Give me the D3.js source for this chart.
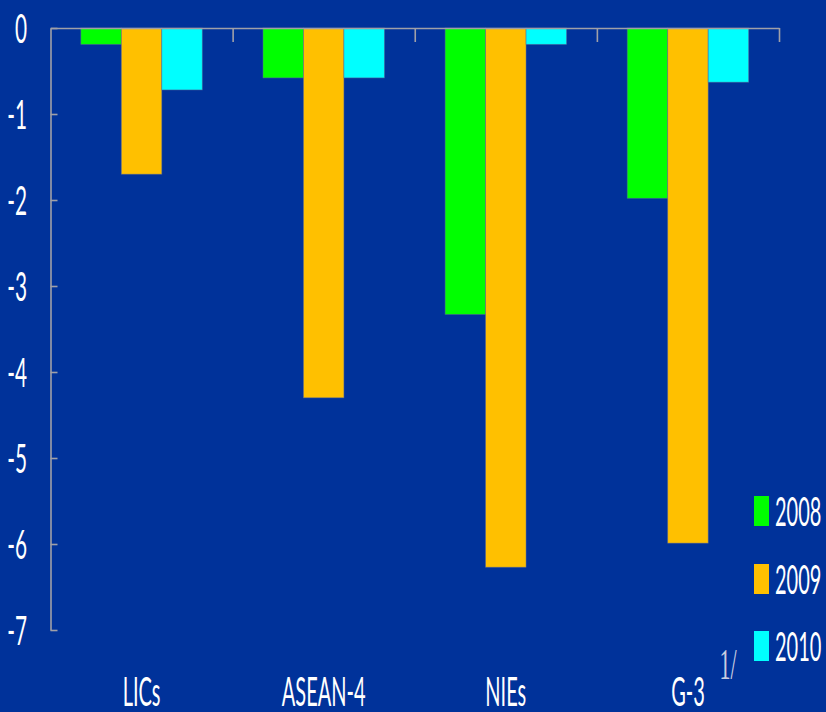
<!DOCTYPE html>
<html>
<head>
<meta charset="utf-8">
<script src="https://cdn.jsdelivr.net/npm/d3@7"></script>
<style>
  html, body { margin: 0; padding: 0; background: #00329a; }
  svg { display: block; }
</style>
</head>
<body>
<svg id="chart" width="826" height="712"></svg>
<script>
// Regional contributions (percent), by year
const categories = ["LICs", "ASEAN-4", "NIEs", "G-3"];
const years = ["2008", "2009", "2010"];
const values2008 = [-0.19, -0.58, -3.33, -1.98];
const values2009 = [-1.70, -4.30, -6.27, -5.99];
const values2010 = [-0.72, -0.58, -0.19, -0.63];
const yTicks = [0, -1, -2, -3, -4, -5, -6, -7];
const colors = ["#00ff00", "#ffc000", "#00ffff"];

const series = [values2008, values2009, values2010];
const rows = categories.map((c, i) => ({
  cat: c,
  vals: years.map((yr, j) => ({ year: yr, v: series[j][i], k: j }))
}));

const svg = d3.select("#chart");
const W = 826, H = 712;
svg.append("rect").attr("width", W).attr("height", H).attr("fill", "#00329a");

const plotLeft = 50.5, plotRight = 779, plotTop = 28, plotBottom = 630;

const y = d3.scaleLinear().domain([0, -7]).range([plotTop, plotBottom]);
const x0 = d3.scaleBand().domain(categories).range([plotLeft, plotRight]);
const groupPad = x0.bandwidth() * 0.1667;
const x1 = d3.scaleBand().domain(years).range([groupPad, x0.bandwidth() - groupPad]);

// condensed text: draw then squeeze horizontally
function squeezed(parent, x, yy, anchor, txt, size, opts = {}) {
  const g = parent.append("g")
    .attr("transform", `translate(${x},${yy}) scale(${opts.sx || 0.5},1)`);
  g.append("text")
    .attr("text-anchor", anchor)
    .attr("font-family", opts.family || "Lato, 'Open Sans', sans-serif")
    .attr("font-size", size)
    .attr("font-weight", opts.weight || 400)
    .attr("fill", opts.fill || "#ffffff")
    .text(txt);
  return g;
}

// bars
const groups = svg.append("g").selectAll("g").data(rows).join("g")
  .attr("transform", d => `translate(${x0(d.cat)},0)`);
groups.selectAll("rect").data(d => d.vals).join("rect")
  .attr("x", d => x1(d.year))
  .attr("width", x1.bandwidth())
  .attr("y", y(0))
  .attr("height", d => y(d.v) - y(0))
  .attr("fill", d => colors[d.k])
  .attr("stroke", "#5a6a9a")
  .attr("stroke-opacity", 0.6)
  .attr("stroke-width", 0.8);

// value axis: ticks point inward
const yAxis = d3.axisLeft(y).tickValues(yTicks).tickSizeInner(-7).tickSizeOuter(0).tickFormat("");
const yg = svg.append("g").attr("transform", `translate(${plotLeft},0)`).call(yAxis);
yg.selectAll("path, line").attr("stroke", "#a0a0a8").attr("stroke-width", 1.6);

yTicks.forEach(t => {
  squeezed(svg, 27, y(t) + 14.5, "end", String(t), 40, { sx: 0.52 });
});

// category axis along the zero line
const xb = d3.scaleLinear().domain([0, categories.length]).range([plotLeft, plotRight]);
const xAxis = d3.axisBottom(xb).tickValues(d3.range(1, categories.length + 1))
  .tickSizeInner(14).tickSizeOuter(0).tickFormat("");
const xg = svg.append("g").attr("transform", `translate(0,${plotTop})`).call(xAxis);
xg.selectAll("path, line").attr("stroke", "#a0a0a8").attr("stroke-width", 1.6);

categories.forEach(c => {
  squeezed(svg, x0(c) + x0.bandwidth() / 2, 706, "middle", c, 40);
});

// footnote marker
squeezed(svg, 728, 679, "middle", "1/", 44, { family: "'Liberation Serif', 'DejaVu Serif', serif", fill: "#c8cce0", sx: 0.5 });

// legend
const legendY = [496, 564, 631];
years.forEach((yr, i) => {
  svg.append("rect")
    .attr("x", 754).attr("y", legendY[i])
    .attr("width", 15).attr("height", 30)
    .attr("fill", colors[i]);
  squeezed(svg, 775, legendY[i] + 29.5, "start", yr, 40);
});
</script>
</body>
</html>
